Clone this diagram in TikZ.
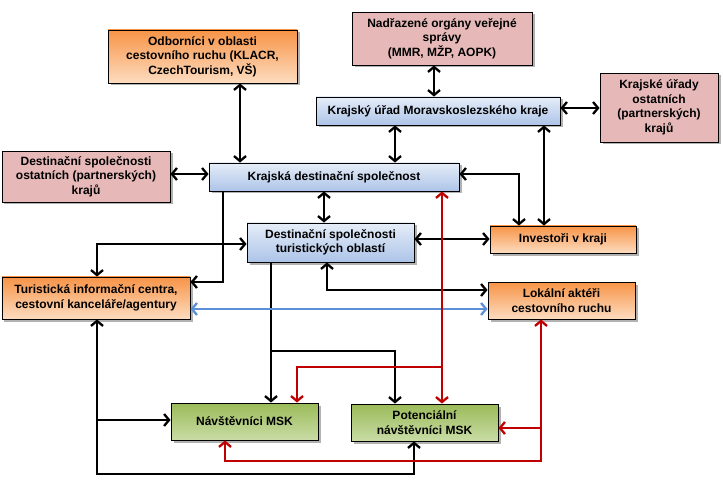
\documentclass[tikz,border=0pt]{standalone}
\usepackage{fontspec}
\setmainfont{Liberation Sans}
\usetikzlibrary{arrows.meta,shadows}
\definecolor{blueT}{HTML}{E5EDF8}
\definecolor{blueB}{HTML}{ADC4E8}
\definecolor{orT}{HTML}{F79447}
\definecolor{orB}{HTML}{FDDCC0}
\definecolor{pinkF}{HTML}{E6B9B8}
\definecolor{grT}{HTML}{9BBB59}
\definecolor{grB}{HTML}{C9DCA6}
\definecolor{myred}{HTML}{C00000}
\definecolor{myblue}{HTML}{5B8FD6}
\tikzset{
  box/.style={draw=black, line width=0.9bp, inner sep=0pt, align=center,
    font=\bfseries\fontsize{12bp}{14.5bp}\selectfont,
    drop shadow={shadow xshift=2.5bp, shadow yshift=-2.5bp, fill=black, opacity=0.3}},
  bluebox/.style={box, top color=blueT, bottom color=blueB},
  orbox/.style={box, top color=orT, bottom color=orB},
  pinkbox/.style={box, fill=pinkF},
  grbox/.style={box, top color=grT, bottom color=grB},
  conn/.style={line width=2.3bp, draw=black},
  dbl/.style={{Straight Barb[length=5bp,width=12bp]}-{Straight Barb[length=5bp,width=12bp]}},
  sgl/.style={-{Straight Barb[length=5bp,width=12bp]}}
}
\begin{document}
\begin{tikzpicture}[x=1bp,y=-1bp]
\useasboundingbox (0,0) rectangle (723,480);
% nodes
\node[orbox, minimum width=189bp, minimum height=53bp] (odb) at (202.5,56.5) {Odborníci v oblasti\\cestovního ruchu (KLACR,\\CzechTourism, VŠ)};
\node[pinkbox, minimum width=180bp, minimum height=53bp] (nad) at (442,38.5) {Nadřazené orgány veřejné\\správy\\(MMR, MŽP, AOPK)};
\node[bluebox, minimum width=244bp, minimum height=28bp] (ku) at (438,111) {Krajský úřad Moravskoslezského kraje};
\node[pinkbox, minimum width=118bp, minimum height=69bp] (kuo) at (659,107.5) {Krajské úřady\\ostatních\\(partnerských)\\krajů};
\node[pinkbox, minimum width=168bp, minimum height=51bp] (dso) at (86,176.5) {Destinační společnosti\\ostatních (partnerských)\\krajů};
\node[bluebox, minimum width=250bp, minimum height=28bp] (kds) at (334,177) {Krajská destinační společnost};
\node[bluebox, minimum width=167bp, minimum height=39bp] (dsto) at (330.5,242.5) {Destinační společnosti\\turistických oblastí};
\node[orbox, minimum width=146bp, minimum height=27bp] (inv) at (563,239.5) {Investoři v kraji};
\node[orbox, minimum width=188bp, minimum height=42bp] (tic) at (96,298) {Turistická informační centra,\\cestovní kanceláře/agentury};
\node[orbox, minimum width=147bp, minimum height=37bp] (lok) at (561.5,300.5) {Lokální aktéři\\cestovního ruchu};
\node[grbox, minimum width=147bp, minimum height=37bp] (nav) at (244.5,421.5) {Návštěvníci MSK};
\node[grbox, minimum width=147bp, minimum height=37bp] (pot) at (424.5,422.5) {Potenciální\\návštěvníci MSK};
% helper coordinates
\coordinate (X97) at (97,0);
\coordinate (X223) at (223,0);
\coordinate (X225) at (225,0);
\coordinate (X240) at (240,0);
\coordinate (X271) at (271,0);
\coordinate (X297) at (297,0);
\coordinate (X324) at (324,0);
\coordinate (X327) at (327,0);
\coordinate (X395) at (395,0);
\coordinate (X414) at (414,0);
\coordinate (X434) at (434,0);
\coordinate (X442) at (442,0);
\coordinate (X519) at (519,0);
\coordinate (X541) at (541,0);
\coordinate (X544) at (544,0);
\coordinate (Y108) at (0,108);
\coordinate (Y174) at (0,174);
\coordinate (Y239) at (0,239);
\coordinate (Y244) at (0,244);
\coordinate (Y282) at (0,282);
\coordinate (Y290) at (0,290);
\coordinate (Y309) at (0,309);
\coordinate (Y351) at (0,351);
\coordinate (Y367) at (0,367);
\coordinate (Y420) at (0,420);
\coordinate (Y428) at (0,428);
\coordinate (Y461) at (0,461);
\coordinate (Y474) at (0,474);
% black connectors
\draw[conn,dbl] (odb.south -| X240) -- (kds.north -| X240);
\draw[conn,dbl] (nad.south -| X434) -- (ku.north -| X434);
\draw[conn,dbl] (ku.east |- Y108) -- (kuo.west |- Y108);
\draw[conn,dbl] (ku.south -| X395) -- (kds.north -| X395);
\draw[conn,dbl] (ku.south -| X544) -- (inv.north -| X544);
\draw[conn,dbl] (kds.east |- Y174) -| (inv.north -| X519);
\draw[conn,dbl] (dso.east |- Y174) -- (kds.west |- Y174);
\draw[conn,dbl] (kds.south -| X324) -- (dsto.north -| X324);
\draw[conn,dbl] (dsto.east |- Y239) -- (inv.west |- Y239);
\draw[conn,sgl] (kds.south -| X223) |- (tic.east |- Y282);
\draw[conn,dbl] (tic.north -| X97) |- (dsto.west |- Y244);
\draw[conn,dbl] (dsto.south -| X327) |- (lok.west |- Y290);
\draw[conn,sgl] (dsto.south -| X271) -- (nav.north -| X271);
\draw[conn,sgl] (X271 |- Y351) -| (pot.north -| X395);
\draw[conn,dbl] (tic.south -| X97) -- (X97 |- Y474) -| (pot.south -| X414);
\draw[conn,sgl] (X97 |- Y420) -- (nav.west |- Y420);
% blue connector
\draw[conn,dbl,draw=myblue] (tic.east |- Y309) -- (lok.west |- Y309);
% red connectors
\draw[conn,dbl,draw=myred] (kds.south -| X442) -- (pot.north -| X442);
\draw[conn,sgl,draw=myred] (X442 |- Y367) -| (nav.north -| X297);
\draw[conn,dbl,draw=myred] (lok.south -| X541) -- (X541 |- Y461) -| (nav.south -| X225);
\draw[conn,sgl,draw=myred] (X541 |- Y428) -- (pot.east |- Y428);
\end{tikzpicture}
\end{document}
